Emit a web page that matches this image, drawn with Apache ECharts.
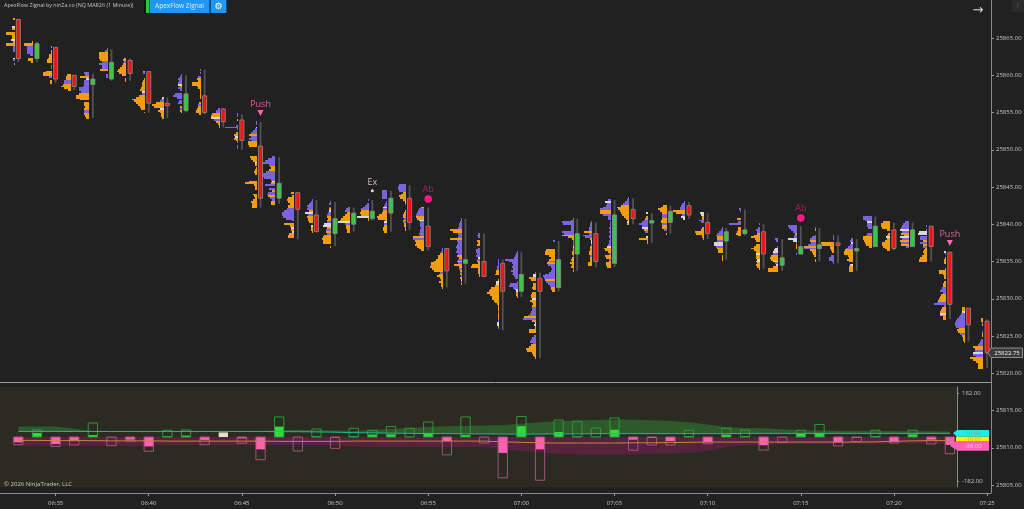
<!DOCTYPE html>
<html><head><meta charset="utf-8">
<style>html,body{margin:0;padding:0;background:#212121}#c{width:1024px;height:509px}</style>
<script src="https://cdn.jsdelivr.net/npm/echarts@6/dist/echarts.min.js"></script>
</head><body><div id="c"></div>
<script>
// minutes counted from 06:00
const minutes=[33,34,35,36,37,38,39,40,41,42,43,44,45,46,47,48,49,50,51,52,53,54,55,56,57,58,59,60,61,62,63,64,65,66,67,68,69,70,71,72,73,74,75,76,77,78,79,80,81,82,83,84,85];
const opens=[25867.5,25862.25,25863.75,25860,25858.75,25859.5,25862,25860.5,25856.25,25855.25,25857.25,25855.5,25854,25850.5,25843.5,25844.25,25841.25,25838.75,25840,25840.75,25841.5,25843.5,25839.75,25836.75,25834.75,25835,25834.75,25831,25832.75,25831.5,25836,25838.75,25834.75,25842,25840.25,25840.25,25842.5,25840.25,25837.75,25838.75,25839,25834.5,25836,25836.75,25837.5,25836.5,25837,25839.25,25837,25839.75,25836.25,25828.75,25827];
const highs=[25867.5,25864.5,25863.75,25860,25860.25,25863.5,25862.25,25860.5,25857,25860,25860.75,25855.5,25854.75,25853.75,25849,25844.25,25843.25,25843,25842.25,25843.25,25844.5,25845.25,25842.25,25836.75,25840.75,25838.75,25835.25,25836.25,25833.5,25837.75,25840.75,25840.25,25843.25,25843.5,25841.5,25842.5,25843,25841.5,25839.5,25842,25840,25838,25839.75,25839.5,25838.5,25838,25841,25840.25,25840.25,25839.75,25836.25,25828.75,25827.25];
const lows=[25861.75,25861.75,25859,25858,25854.25,25859.25,25859.25,25855,25854.25,25855,25854.75,25853,25850,25842.25,25842.75,25838,25839,25837,25839,25840.5,25839,25839.25,25836.5,25831.5,25832,25833,25825.75,25830.25,25822,25831,25833.75,25834.25,25834.25,25840,25837.5,25838.75,25840.75,25838,25835.25,25838.5,25834,25833.75,25836,25835,25834.75,25833.75,25837,25836.5,25837,25835,25827.25,25824.25,25820.75];
const closes=[25862.25,25864.25,25859.5,25858.5,25859.5,25861.75,25860.25,25856.25,25856,25857.5,25855,25853.75,25851.25,25843.5,25845.5,25842,25839,25840.75,25841.5,25841.75,25843.5,25840.25,25837,25833.75,25835.25,25833,25831,25833.25,25831,25835.25,25838.75,25835,25841.25,25840.75,25840.5,25841.75,25841.25,25838.75,25839,25839.25,25836,25835.5,25837,25837.25,25837.25,25836.75,25839.75,25836.75,25839.25,25837,25829.25,25826.5,25822.75];
// one string per candle, rows from its high downward, 0.25 point each: colour + length, xN repeats, - is empty
const profiles=[
"o2 -x3 w3 o3 - o9x2 o3x2 w4 o2 o9x2 p2x3 -x3 w2 p2 - o1",
"o1 o9x2 p6x4 p3 - o5x2 o2",
"o1 - o1 o1 o3x2 o4 o5x2 - p1x2 - o6 o9x2 p3 - o2x2",
"o4 o5x2 p7x2 o8 o10 o7 o3",
"p5 p4 o9 w3 p5x3 p6 p10x2 p8 o10 o13x2 o9 - o5x2 o4 o5 p5x2 o5 o4 o3",
"p1 p3 o9x4 o8 p6 p9 p6x2 o8 - - p2x2 - -",
"o2 o3 p2 o3 o4 o6 o8 o9 o7 o4 - o1 o1",
"o2 p2 - - o1 o2 o3x3 o4 o5 w3 p3 o6 o9 o13 o11 o9 o7 o5 o4 - o1",
"w2 p3 p4 o8 o12 o10 w4 o6 o4 o3x2 o2",
"p1 p2 p4 p3 p4 w4 o2 p4 p2 - p7 p9 p5 - p3 p4 - o2 p2 o2 o1",
"p1 - p1 - p3 o4 o3 o9x2 o4 o3 o1x5 - - o2 p3 o3 o4 o5x2 o2",
"p2 p4 p4 o8 o9 w9 p6 o4 o2 o1 o1",
"p1 p1 - o1 - - p2 p13 p1 - o2 o4 w3 o4 o2 p1 - p1 p1 -",
"p1x2 - w1 p2 p4 p6 o8 p6 p8 p5 o9x2 o8 -x5 o7 o6 o4 w2 o2 - o1 o2 o3 o2 -x3 o8 o12 o3 o2 o2 -x2 o4 o3 o2 o4 o6 o5x3",
"p3 p7 p10 p12 p6 o5 o4 o6 p9 p12 p12 p11 p4 w3 o4 p10 - p6 o3 p7 p8 o7 p5 p3 o4 o4",
"o3 - o2 o6 o7 o6 o4 o6x2 p7 p10 p12x2 p11 p8 p2 - o10 o4 w3 o3 w2 o5 o6 o6",
"p1 p2 p4 p6 p5 p6 o4 w8 p5 o6 o5 o5 o4 - w2 o2 o2 o1",
"p1 p2 - p2 o2 w2 p3 p4 o4 o3 o4 p4 w7 w8 o4 p5 o5 p4 o7 o8 o9 o8 o8 - o1",
"p2 p4 p5 o3 o5 o7 o9 o10 w12 p5 o4 o4 o3 o3",
"p1 - p2 p4 p6 p8 o8 o9 o8 w12 o1 o1",
"p5x5 - p1 p2 p3 w4 p4 o4 o5 o8 o10 o9 o2 w3 p3 o3 o4 o4 o3",
"p7 p8 p8 p7 o3 o5 o7 o6 o3 w1 p1 - - - o1 o2 o3 o3 p2 o3 p3 o2 o2 o1 o1",
"o3 p5 p6 p7 p8 o8 o7 w5 p4 p4 p4 p3 p4 p4 p5 p4 o11 p11 o9 o8 o9 o7 o5 o3",
"p1 p1 p2 o3 o5 o5 o7 o9 o12 o12 o13 o11 o9 p3 o4 o6 o3 o2 o4 o2 o2 o1",
"p1 p1 p2 p3 p3 p4 o12 o9 p4 p3 p4 o12 p5 p4 p5 p6 p5 p5 p6 p4 o5 o3 p4 o5 p4 o8 o3 p3 o2 p2 o2 p1 o2 w1 p1 o1",
"p2 p3 p2 - o3 o2 o3 - p2 p4 p4 p3 p4 w2 p3 o3 o2 o8 o9 o2 o2 o2 o1 o1",
"p1 p1 p1 p1 p2 p2 o3 o3 o4 - - o1 w3 w3 o4 o8 o9 o10 o12 o9 o7 o7 o5 o4 o2 o1 o1 o1 p1 o1 o1 o1 o1 p1 w2 w2 o1 p1",
"p1 p2 p3 p4 p13 p9 p6 p5 p6 p5 p7 p5 p6 p4 p3 - p1 p8 p9 p5 w3 w2 o2 o2 o1",
"p1 w3 w3 o7 o5 - o3 o3 o4 o3 - o4 o5 o5 w4 o6 o4 o3 o4 p4 p4 p5 p6 p8 o12 p13 o4 w1 w2 o1 o1 o7 o7 - p2 p4 p5 p6 p3 o5 o7 o10 o9 o4 o3 o2 o1",
"p2 - - - - o9 o10 o10 o6 o4 o6 p7 o8 p7 p4 p3 p4 p6 p10 p12 p11 o10 p9 p7 p5 o4 o4 o3",
"p1 p3 p12 p11 p3 p3 p3 p12 p10 o12 o6 o2 p1 p1 p1 w1 o1 o1 o2 o2 p1 o2 o3 o2 o4 o2 o3 p1 o1",
"p1 p2 p2 p3 p3 o8 p3 p9 p7 o2 w1 w1 p1 o2 o2 o2 o3 o3 p2 o2 o2 o2 o4 o4",
"p3 w6 p4 p5 p8 p11 o11 o11 p8 p3 p3 - p1 p1 p1 p2 p1 p2 p1 p2 p2 p1 p2 p2 p3 w4 o7 o6 o3 p2 o6 o5 p2 o2 o5 o5 o4",
"p1 p2 p4 p6 o8 o12 o11 o9 o8 o7 o5 o3 w1 w2 o2",
"w2 - o2 o3 p4 p6 p9 p6 w6 o4 p3 - - w2 o9 o1 o1",
"o4 o6 o9 o7 o5 p5 p5 o5 o6 o6 p5 o5 o5 p3 - o1",
"p1 p3 p4 p5 p5 o12 o9 p3 w4 w2",
"w4 w3 o2 o2 p5 p3 - - o2 o3 o9 o8 o2 o2 o1",
"p1 p2 p4 p6 p7 o6 o6 p6 w9 w9 p7 o6 o5 o5 - o1 o1 o1",
"p2 p1 - - - o4 - p3 p12 - o3 o3 o4 o5 o3",
"p1 - p2 p4 p3 o3 o6 o9 o5 o4 - o4 o6 o9 o6 o4 w4 o4 o4 w3 w4 o3 o4 o3 o1",
"p3 p2 - - p1 w3 w4 w5 p5 o7 o8 o7 w5 p3 w2 o5 o10 o10",
"p9 p8 p6 p4 o2 p3 p3 w9 w4 p1 o1 o1 o1 - - p1",
"p1 o1 - - p1 p4 p6 o6 p5 p8 o12 p12 o6 o4 o3 o2 - o1 o1",
"p1 p1 p1 - o13 o12 o4 o4 o3 o2 - p3 p5 p5 p2 p1",
"p2 p3 w2 p3 p5 p7 o8 o9 o9 o5 o4 o6 o4 - w3 o4 o4 o4",
"p9 p9 p7 w5 p5 p5 p4 - - p5 p6 o9 o9 o8 o7 o6 o3",
"o7 o9 o9 o8 o3 - o2 o3 w4 o3 o5 o8 o8 o7 o5 o3",
"p4 p6 p7 p8 w9 p7 o8 o5 w9 p7 o9 p8 o8 p3",
"p1 - p1 w8 w9 - p7 p7 o4 p7 o4 p4 o2 o3 o4 o3 o5 o7 o8 o8",
"w2 p1 - o1 o2 o2 o2 - - o1 o7 o7 o3 o2 o2 - o2 o3 o3 p4 p5 p6 p3 o5 o6 o7 o8 p9 p12 p2 o4 o5 o6 w6 o6 o3 o3",
"o3 o3 w3 p4 p5 p6 p8 p9 p10 p10 p9 o6 o8 o7 p5 o3 o2 o2 o1",
"o2 o2 p1 o1 - - - p1 o1 o1 - p2 p3 p4 p5 o10 o8 p8 w10 p10 p7 o13 o10 o7 o5 o5 o5"
];
// lower pane, 06:33 to 07:23
const flowMinutes=minutes.slice(0,51);
const flowFill=[-22,17,-29,-15,8,-1,-11,-39,3,6,-12,19,-6,-51,43,-1,3,-3,3,10,11,1,17,-17,8,-1,-66,45,-51,21,3,1,30,-11,-4,-17,3,-21,10,3,-34,-1,14,17,-22,-3,3,-19,11,-11,-33];
const flowOutline=[-32,30,-39,-33,58,-36,-17,-59,28,29,-32,19,-26,-94,83,-58,33,-47,36,28,43,36,62,-74,83,-25,-169,85,-179,70,65,37,79,-55,-33,-33,28,-28,36,28,-54,-22,28,52,-37,-19,28,-25,28,-29,-69];
const greenTop=[43,43,43,34,25,24,24,24,24,24,24,24,24,24,29,30,28,27,25,29,33,37,41,44,46,48,50,55,61,65,68,70,72,71,69,66,61,52,41,37,36,32,28,27,26,26,25,25,24,24,23];
const tealLine=[23,23,23,23,23,23,23,23,23,23,23,23,23,23,22,22,21,20,18,17,16,15,14,14,13,13,12,12,12,13,13,14,14,14,14,14,14,14,14,15,15,15,15,15,15,15,15,15,15,15,15];
const pinkLow=[-36,-36,-36,-36,-36,-36,-36,-34,-33,-33,-33,-33,-33,-33,-33,-33,-34,-34,-40,-41,-41,-41,-41,-41,-41,-41,-52,-58,-63,-69,-72,-73,-74,-72,-69,-68,-66,-58,-41,-34,-33,-31,-30,-29,-28,-28,-28,-27,-27,-27,-27];
const orangeLine=[-14,-14,-15,-15,-15,-16,-16,-16,-17,-17,-17,-17,-17,-17,-18,-18,-18,-18,-17,-17,-17,-17,-17,-17,-17,-17,-20,-22,-24,-25,-25,-25,-25,-24,-24,-23,-22,-21,-21,-21,-21,-21,-21,-21,-21,-21,-20,-18,-16,-15,-15];
const flowTicks=[-182,182];
// signals
const pushes=[{name:'Push',value:[46,25854.94]},{name:'Push',value:[83,25837.5]}];
const exits=[{name:'Ex',value:[52,25844.5]}];
const absorbs=[{name:'Ab',value:[55,25843.4]},{name:'Ab',value:[75,25840.85]}];

const FONT='"Open Sans",sans-serif';
const TXT='#c4c4c4';
const COL={o:'#f39c12',p:'#7a63dc',w:'#d9d6da'};
const PXMIN=18.63;
const profileData=[];
profiles.forEach((s,i)=>{
  let p=highs[i];
  s.trim().split(/\s+/).forEach(tok=>{
    const m=tok.match(/^([opw]?)(\d*)-?(?:x(\d+))?$/);
    const n=m&&m[3]?+m[3]:1;
    for(let k=0;k<n;k++){
      if(tok[0]!=='-') profileData.push([minutes[i],p,+m[2],tok[0]]);
      p-=0.25;
    }
  });
});
const candleData=minutes.map((t,i)=>[t,opens[i],highs[i],lows[i],closes[i]]);
const flowData=flowMinutes.map((t,i)=>[t,flowFill[i],flowOutline[i]]);

function renderProfile(par,api){
  const d=profileData[api.value(4)];
  const a=api.coord([d[0]-0.2,d[1]+0.125]);
  const b=api.coord([d[0]-0.2-d[2]/PXMIN,d[1]-0.125]);
  const x0=Math.round(b[0]),x1=Math.round(a[0]),y0=Math.round(a[1]),y1=Math.round(b[1]);
  return {type:'rect',shape:{x:x0,y:y0,width:Math.max(x1-x0,1),height:Math.max(y1-y0,1)},style:{fill:COL[d[3]]}};
}
function renderCandle(par,api){
  const t=api.value(0),o=api.value(1),h=api.value(2),l=api.value(3),c=api.value(4);
  const hi=api.coord([t,h]),lo=api.coord([t,l]),top=api.coord([t,Math.max(o,c)]),bot=api.coord([t,Math.min(o,c)]);
  const w=api.coord([t+0.11,h])[0]-hi[0];
  const col=c>=o?'#35c93f':'#ee1414';
  return {type:'group',children:[
    {type:'rect',shape:{x:hi[0]-0.9,y:hi[1],width:1.8,height:lo[1]-hi[1]},style:{fill:'#525252'}},
    {type:'rect',shape:{x:top[0]-w,y:top[1],width:2*w,height:Math.max(bot[1]-top[1],2.5)},style:{fill:col,stroke:'#8c8c8c',lineWidth:0.8}}
  ]};
}
function renderFlow(par,api){
  const t=api.value(0),f=api.value(1),o=api.value(2);
  const z=api.coord([t,0]),hw=api.coord([t+0.25,0])[0]-z[0];
  const fy=api.coord([t,f])[1],oy=api.coord([t,o])[1];
  const cream=(f===o);
  const fill=cream?'#e6e0c6':(f>=0?'#2fdc3c':'#ff5fb4');
  const line=o>=0?'#2c9a34':'#a5527f';
  const ch=[{type:'rect',shape:{x:z[0]-hw,y:Math.min(z[1],fy),width:2*hw,height:Math.abs(fy-z[1])},style:{fill}}];
  if(!cream) ch.push({type:'rect',shape:{x:z[0]-hw,y:Math.min(z[1],oy),width:2*hw,height:Math.abs(oy-z[1])},style:{fill:'none',stroke:line,lineWidth:1}});
  return {type:'group',children:ch};
}
function bandRenderer(upper,lower,fill){
  return function(par,api){
    const pts=[];
    flowMinutes.forEach((t,i)=>pts.push(api.coord([t,upper[i]])));
    for(let i=flowMinutes.length-1;i>=0;i--) pts.push(api.coord([flowMinutes[i],lower[i]]));
    return {type:'polygon',shape:{points:pts},style:{fill}};
  };
}
const zeros=flowMinutes.map(()=>0);
const main={xAxisIndex:0,yAxisIndex:0,animation:false,silent:true};
const low={xAxisIndex:1,yAxisIndex:1,animation:false,silent:true};
const marker=(data,symbol,size,color,labelColor,rotate,dist)=>({
  ...main,type:'scatter',data,symbol,symbolSize:size,symbolRotate:rotate||0,z:5,
  itemStyle:{color,opacity:1},
  label:{show:true,position:'top',distance:dist,formatter:'{b}',color:labelColor,fontFamily:FONT,fontSize:9}
});
const option={
  backgroundColor:'#212121',animation:false,
  textStyle:{fontFamily:FONT},
  grid:[
    {left:-37.55,width:1028.55,top:0.8,height:484.2,show:false,outerBoundsMode:'none'},
    {left:-37.55,width:994.55,top:387,height:100,show:true,backgroundColor:'#2c2b21',borderWidth:0,z:1,outerBoundsMode:'none'}
  ],
  xAxis:[
    {type:'value',gridIndex:0,min:30,max:85.21,interval:5,offset:8,position:'bottom',splitLine:{show:false},
     axisLine:{show:true,lineStyle:{color:'#8a8a8a'},onZero:false},
     axisTick:{show:true,length:3,lineStyle:{color:'#9a9a9a'}},
     axisLabel:{show:true,showMaxLabel:false,margin:7,color:TXT,fontSize:6,fontFamily:FONT,
       formatter:v=>{const h=6+Math.floor(v/60),m=Math.round(v%60);return String(h).padStart(2,'0')+':'+String(m).padStart(2,'0');}}},
    {type:'value',gridIndex:1,min:30,max:83.38,interval:5,splitLine:{show:false},
     axisLine:{show:true,onZero:true,lineStyle:{color:'#6b6b6b',width:1}},axisTick:{show:false},axisLabel:{show:false}}
  ],
  yAxis:[
    {type:'value',gridIndex:0,min:25805,max:25870,interval:5,position:'right',splitLine:{show:false},
     axisLine:{show:false},axisTick:{show:true,length:3,lineStyle:{color:'#9a9a9a'}},
     axisLabel:{show:true,showMaxLabel:false,margin:5,color:TXT,fontSize:6,fontFamily:FONT,formatter:v=>v.toFixed(2)}},
    {type:'value',gridIndex:1,min:-207,max:207,position:'right',splitLine:{show:false},
     axisLine:{show:true,onZero:false,lineStyle:{color:'#8a8a8a'}},
     axisTick:{show:true,length:2,customValues:flowTicks,lineStyle:{color:'#9a9a9a'}},
     axisLabel:{show:true,margin:5,customValues:flowTicks,color:TXT,fontSize:6,fontFamily:FONT,formatter:v=>v.toFixed(2)}}
  ],
  series:[
    {...main,type:'custom',renderItem:renderProfile,data:profileData.map((d,i)=>[d[0],d[1],d[2],0,i]),z:2},
    {...main,type:'custom',renderItem:renderCandle,data:candleData,encode:{x:0,y:[1,2,3,4]},z:3},
    marker(pushes,'triangle',6,'#ff69b4','#e0609f',180,1),
    marker(exits,'circle',3,'#ffd0dc','#d8b8c0',0,2),
    marker(absorbs,'circle',7.5,'#ff1a8c','#b01a68',0,1),
    {...low,type:'custom',renderItem:bandRenderer(greenTop,tealLine,'#2e5a2b'),data:[[33,0]],z:2},
    {...low,type:'custom',renderItem:bandRenderer(zeros,pinkLow,'#56233f'),data:[[33,0]],z:2},
    {...low,type:'custom',renderItem:renderFlow,data:flowData,encode:{x:0,y:[1,2]},z:3},
    {...low,type:'line',data:flowMinutes.map((t,i)=>[t,tealLine[i]]),showSymbol:false,lineStyle:{color:'#20b892',width:1},z:4},
    {...low,type:'line',data:flowMinutes.map((t,i)=>[t,orangeLine[i]]),showSymbol:false,lineStyle:{color:'#c8843c',width:1},z:4}
  ],
  graphic:[
    {type:'line',shape:{x1:991.5,y1:0,x2:991.5,y2:493},style:{stroke:'#8a8a8a',lineWidth:1},z:6,silent:true},
    {type:'line',shape:{x1:0,y1:382.5,x2:991,y2:382.5},style:{stroke:'#9a9a9a',lineWidth:1},z:6,silent:true},
    {type:'text',x:4,y:3,style:{text:'ApexFlow Zignal by ninZa.co (NQ MAR26 (1 Minute))',fill:TXT,fontSize:5.4,fontFamily:FONT},z:6},
    {type:'rect',shape:{x:144,y:0,width:83,height:14},style:{fill:'#111'},z:6},
    {type:'rect',shape:{x:146,y:0,width:3,height:13},style:{fill:'#28c93a'},z:6},
    {type:'rect',shape:{x:149.5,y:0,width:60,height:13},style:{fill:'#2196f3'},z:6},
    {type:'rect',shape:{x:210.5,y:0,width:16,height:13},style:{fill:'#2196f3'},z:6},
    {type:'text',x:179.5,y:6.5,style:{text:'ApexFlow Zignal',fill:'#dff0ff',fontSize:6.5,fontFamily:FONT,align:'center',verticalAlign:'middle'},z:7},
    {type:'text',x:218.5,y:6.5,style:{text:'\u2699',fill:'#ffffff',fontSize:9,fontFamily:'DejaVu Sans',align:'center',verticalAlign:'middle'},z:7},
    {type:'text',x:978,y:10.5,style:{text:'\u2192',fill:'#d8d8d8',fontSize:13,fontFamily:'DejaVu Sans',align:'center',verticalAlign:'middle'},z:7},
    {type:'rect',shape:{x:1012,y:0,width:12,height:12},style:{fill:'#2a2a2a'},z:6},
    {type:'text',x:1018,y:6,style:{text:'F',fill:'#555',fontSize:7,fontFamily:FONT,align:'center',verticalAlign:'middle'},z:7},
    {type:'text',x:4,y:481,style:{text:'\u00a9 2026 NinjaTrader, LLC',fill:TXT,fontSize:6,fontFamily:FONT},z:7},
    {type:'polygon',shape:{points:[[988,352.8],[991,348],[1022.5,348],[1022.5,357.5],[991,357.5]]},style:{fill:'#3b3b3b',stroke:'#8e8e8e',lineWidth:1},z:7},
    {type:'text',x:1007,y:352.8,style:{text:'25822.75',fill:'#f0f0f0',fontSize:6,fontFamily:FONT,align:'center',verticalAlign:'middle'},z:8},
    {type:'polygon',shape:{points:[[953,433.3],[957,430],[989,430],[989,436.7],[957,436.7]]},style:{fill:'#19eef2'},z:7},
    {type:'rect',shape:{x:956,y:436.7,width:33,height:4.3},style:{fill:'#ffee10'},z:7},
    {type:'polygon',shape:{points:[[956,441],[989,441],[989,450.7],[958,450.7],[950,446]]},style:{fill:'#ff5fb4'},z:7},
    {type:'text',x:973,y:433.5,style:{text:'10.80',fill:'#8aa0a0',fontSize:6,fontFamily:FONT,align:'center',verticalAlign:'middle'},z:8},
    {type:'text',x:973,y:439,style:{text:'-16.00',fill:'#b0a840',fontSize:5.5,fontFamily:FONT,align:'center',verticalAlign:'middle'},z:8},
    {type:'text',x:973,y:446,style:{text:'-38.00',fill:'#f0d0e0',fontSize:6,fontFamily:FONT,align:'center',verticalAlign:'middle'},z:8}
  ]
};
const chart=echarts.init(document.getElementById('c'),null,{renderer:'canvas'});
chart.setOption(option);
</script>
</body></html>
